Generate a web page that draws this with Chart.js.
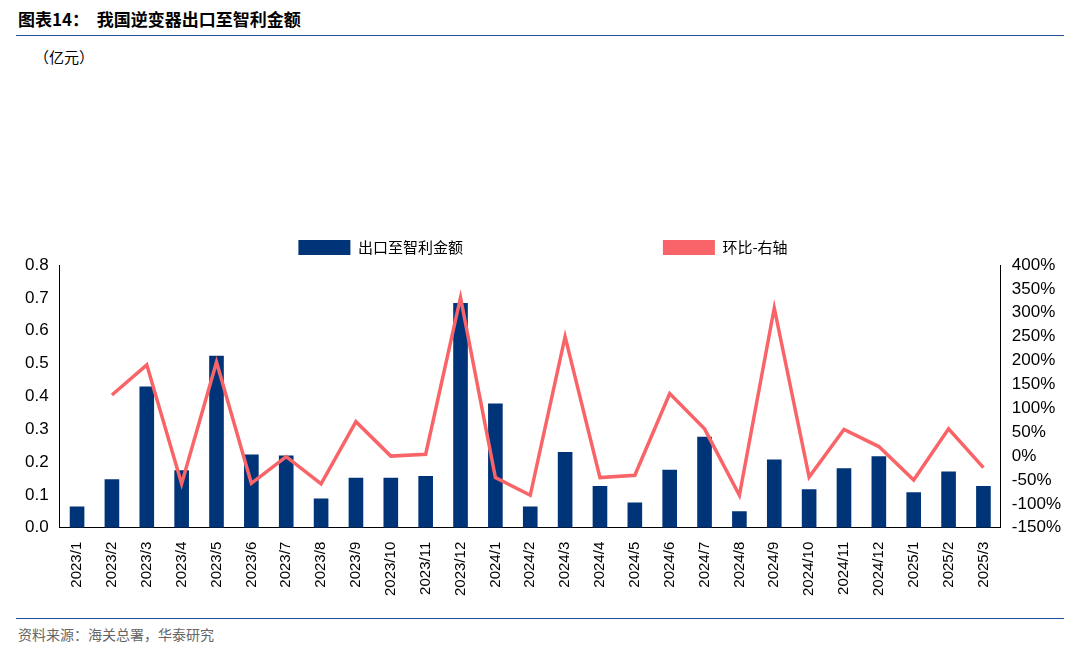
<!DOCTYPE html>
<html><head><meta charset="utf-8">
<script src="https://cdn.jsdelivr.net/npm/chart.js@4/dist/chart.umd.min.js"></script>
<style>
body{margin:0;width:1080px;height:649px;background:#fff;font-family:"Noto Sans CJK SC",sans-serif;position:relative;overflow:hidden}
#title{position:absolute;left:18px;top:6px;font-size:17px;font-weight:bold;color:#000}
#tl{position:absolute;left:16px;right:16px;top:35px;border-top:1px solid #1f4e9c}
#bl{position:absolute;left:16px;right:16px;top:618px;border-top:1px solid #1f4e9c}
#src{position:absolute;left:18px;top:624px;font-size:14px;color:#666}
#unit{position:absolute;left:34px;top:46px;font-size:15px;color:#000}
#wrap{position:absolute;left:0;top:40px;width:1080px;height:574px}
</style></head><body>
<div id="title">图表14：&nbsp;&nbsp;我国逆变器出口至智利金额</div>
<div id="tl"></div>
<div id="unit">（亿元）</div>
<div id="wrap"><canvas id="c"></canvas></div>
<div id="bl"></div>
<div id="src">资料来源：海关总署，华泰研究</div>
<script>
const categories = ['2023/1','2023/2','2023/3','2023/4','2023/5','2023/6','2023/7','2023/8','2023/9','2023/10','2023/11','2023/12',
  '2024/1','2024/2','2024/3','2024/4','2024/5','2024/6','2024/7','2024/8','2024/9','2024/10','2024/11','2024/12','2025/1','2025/2','2025/3'];
const amounts = [0.065,0.148,0.43,0.175,0.524,0.223,0.22,0.089,0.152,0.152,0.158,0.684,
  0.378,0.065,0.231,0.127,0.077,0.177,0.277,0.05,0.208,0.117,0.181,0.218,0.108,0.171,0.127];
const momPct = [null,128,191,-58,197,-57,-1,-58,72,0,4,332,
  -45,-82,250,-45,-40,131,57,-82,310,-44,56,20,-50,57,-24];

const ctx = document.getElementById('c').getContext('2d');
new Chart(ctx, {
  data: {
    labels: categories,
    datasets: [
      {type:'bar', label:'出口至智利金额', data:amounts, yAxisID:'y', backgroundColor:'#003478',
       barPercentage:0.42, categoryPercentage:1, order:1},
      {type:'line', label:'环比-右轴', data:momPct, yAxisID:'y1', borderColor:'#f86467', backgroundColor:'#f86467',
       borderWidth:3.5, pointRadius:0, tension:0, order:0}
    ]
  },
  options: {
    responsive:true, maintainAspectRatio:false, animation:false,
    layout:{padding:{left:22,right:16,top:0,bottom:12}},
    plugins:{
      legend:{labels:{boxWidth:52, padding:200, font:{size:15,family:'Noto Sans CJK SC'}, color:'#000',
        generateLabels(chart){
          return chart.data.datasets.map((d,i)=>({text:d.label, fillStyle:d.backgroundColor, strokeStyle:d.backgroundColor,
            lineWidth:0, boxHeight: d.type==='line'?3:9, datasetIndex:i}));
        }}},
      tooltip:{enabled:false}
    },
    scales:{
      x:{grid:{display:false}, border:{color:'#000'},
         ticks:{maxRotation:90, minRotation:90, color:'#000', font:{size:15}, autoSkip:false, padding:6}},
      y:{min:0, max:0.8, position:'left', grid:{display:false}, border:{color:'#000'},
         ticks:{stepSize:0.1, color:'#000', font:{size:17}, callback:v=>v.toFixed(1)}},
      y1:{min:-150, max:400, position:'right', grid:{display:false}, border:{color:'#000'},
         ticks:{stepSize:50, color:'#000', font:{size:17}, callback:v=>v+'%'}}
    }
  }
});
</script>
</body></html>
